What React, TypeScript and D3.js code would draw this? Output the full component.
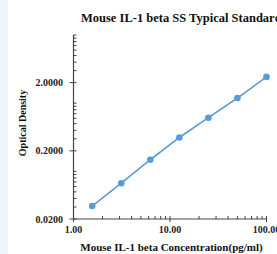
import React from "react";
import * as d3 from "d3";

const concentrations = [1.5625, 3.125, 6.25, 12.5, 25, 50, 100];
const densities = [0.031, 0.067, 0.148, 0.314, 0.612, 1.19, 2.43];
const xTickValues = [1, 10, 100];
const xTickLabels = ["1.00", "10.00", "100.00"];
const yTickValues = [0.02, 0.2, 2];
const yTickLabels = ["0.0200", "0.2000", "2.0000"];
const titleText = "Mouse IL-1 beta SS Typical Standard Curve";
const xTitle = "Mouse IL-1 beta Concentration(pg/ml)";
const yTitle = "Optical Density";

const W = 277;
const H = 254;

export default function App() {
  const x = d3.scaleLog().domain([1, 100]).range([73.5, 266.5]);
  const y = d3.scaleLog().domain([0.02, 10]).range([219, 35]);
  const font = "'Liberation Serif', 'Times New Roman', serif";
  const axisColor = "#444";
  const blue = "#5b9bd5";

  const minorX: number[] = [];
  for (const base of [1, 10]) for (let k = 2; k <= 9; k++) minorX.push(base * k);
  const minorYList: number[] = [];
  for (const dec of [0.01, 0.1, 1]) for (let k = 3; k <= 10; k++) minorYList.push(dec * k);

  const data = concentrations.map((c, i) => [c, densities[i]] as [number, number]);
  const line = d3.line<[number, number]>().x(d => x(d[0])).y(d => y(d[1]));

  const [x0, x1] = x.range();
  const [yb, yt] = y.range();

  return (
    <svg width={W} height={H} style={{ position: "absolute", left: 0, top: 0 }}>
      <rect x={0} y={0} width={W} height={H} fill="#fff" />
      <rect x={0} y={0} width={8} height={H} fill="#eef6fd" />
      <text x={81} y={22} fontFamily={font} fontWeight="bold" fontSize={12.5} fill="#111">
        {titleText}
      </text>
      <line x1={x0} x2={x1} y1={yb} y2={yb} stroke={axisColor} strokeWidth={1.2} />
      <line x1={x0} x2={x0} y1={yb} y2={yt} stroke={axisColor} strokeWidth={1.2} />
      {xTickValues.map(v => (
        <line key={"xm" + v} x1={x(v)} x2={x(v)} y1={yb - 3} y2={yb + 3} stroke={axisColor} strokeWidth={1} />
      ))}
      {minorX.map(v => (
        <line key={"xn" + v} x1={x(v)} x2={x(v)} y1={yb - 3} y2={yb} stroke={axisColor} strokeWidth={1} />
      ))}
      {yTickValues.map(v => (
        <line key={"ym" + v} x1={x0 - 4} x2={x0 + 3} y1={y(v)} y2={y(v)} stroke={axisColor} strokeWidth={1} />
      ))}
      {minorYList.map(v => (
        <line key={"yn" + v} x1={x0} x2={x0 + 3} y1={y(v)} y2={y(v)} stroke={axisColor} strokeWidth={1} />
      ))}
      {xTickValues.map((v, i) => (
        <text key={"xl" + v} x={x(v)} y={232.5} textAnchor="middle" fontFamily={font} fontSize={10} fontWeight="bold" fill="#222">
          {xTickLabels[i]}
        </text>
      ))}
      {yTickValues.map((v, i) => (
        <text key={"yl" + v} x={63} y={y(v) + 3.5} textAnchor="end" fontFamily={font} fontSize={10} fontWeight="bold" fill="#222">
          {yTickLabels[i]}
        </text>
      ))}
      <text x={171.5} y={250.5} textAnchor="middle" fontFamily={font} fontWeight="bold" fontSize={11} fill="#111">
        {xTitle}
      </text>
      <text transform={`translate(26,123) rotate(-90)`} textAnchor="middle" fontFamily={font} fontWeight="bold" fontSize={10} fill="#111">
        {yTitle}
      </text>
      <path d={line(data) || ""} fill="none" stroke={blue} strokeWidth={1.6} />
      {data.map((d, i) => (
        <circle key={i} cx={x(d[0])} cy={y(d[1])} r={3.3} fill={blue} />
      ))}
    </svg>
  );
}
